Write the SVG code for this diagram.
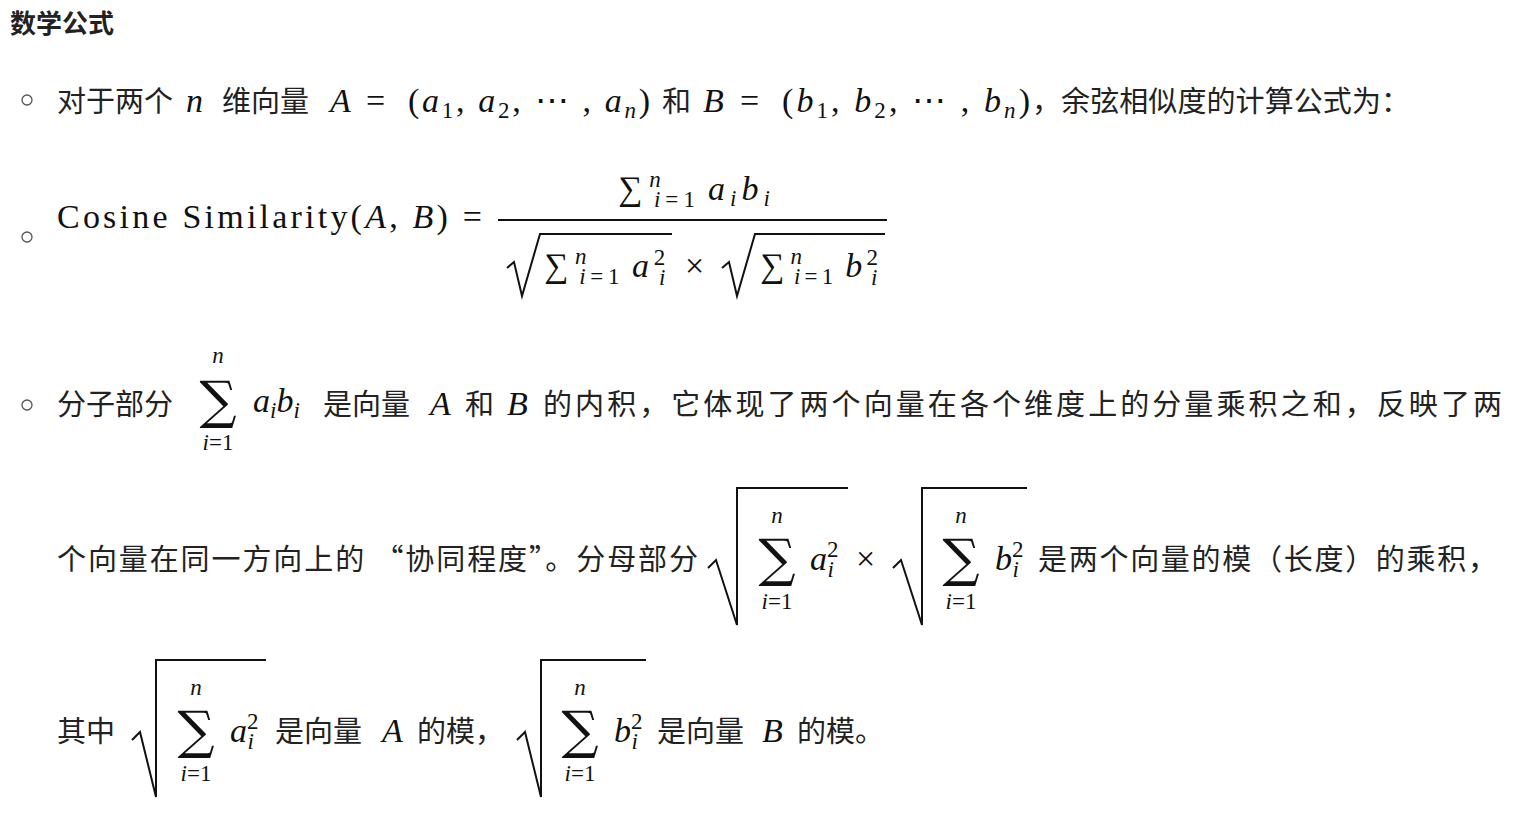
<svg xmlns="http://www.w3.org/2000/svg" width="1530" height="820" viewBox="0 0 1530 820">
<style>
.c{font-family:"Noto Sans CJK SC","Noto Sans",sans-serif;font-size:29px;fill:#222}
.m{font-family:"Liberation Serif","DejaVu Serif",serif;font-size:34px;fill:#111}
.i{font-style:italic}
.s{font-size:23px}
.big{font-family:"DejaVu Serif",serif;font-size:52px;fill:#111}
.b{fill:none;stroke:#555;stroke-width:1.3}
.r{fill:none;stroke:#111;stroke-width:2}
</style>
<rect width="1530" height="820" fill="#fff"/>
<text x="10" y="33" class="c" style="font-weight:bold;font-size:26px">数学公式</text>
<circle cx="27" cy="100" r="5" class="b"/><circle cx="27" cy="237" r="5" class="b"/><circle cx="27" cy="405" r="5" class="b"/>
<!-- line 1 -->
<text y="112" class="c"><tspan x="57">对于两个</tspan><tspan x="222">维向量</tspan><tspan x="662">和</tspan></text>
<text x="1032" y="112" class="c" textLength="378" lengthAdjust="spacing">，余弦相似度的计算公式为：</text>
<text y="112" class="m"><tspan x="186" class="i">n</tspan><tspan x="330" class="i">A</tspan><tspan x="366">=</tspan><tspan x="703" class="i">B</tspan><tspan x="740">=</tspan></text>
<text x="408" y="112" class="m" textLength="242" lengthAdjust="spacing">(<tspan class="i">a</tspan><tspan class="s" dy="6">1</tspan><tspan dy="-6">, </tspan><tspan class="i">a</tspan><tspan class="s" dy="6">2</tspan><tspan dy="-6">, ⋯ , </tspan><tspan class="i">a</tspan><tspan class="s i" dy="6">n</tspan><tspan dy="-6">)</tspan></text>
<text x="782" y="112" class="m" textLength="248" lengthAdjust="spacing">(<tspan class="i">b</tspan><tspan class="s" dy="6">1</tspan><tspan dy="-6">, </tspan><tspan class="i">b</tspan><tspan class="s" dy="6">2</tspan><tspan dy="-6">, ⋯ , </tspan><tspan class="i">b</tspan><tspan class="s i" dy="6">n</tspan><tspan dy="-6">)</tspan></text>
<!-- line 2 -->
<text x="57" y="228" class="m" textLength="425" lengthAdjust="spacing">Cosine Similarity(<tspan class="i">A</tspan>, <tspan class="i">B</tspan>)  =</text>
<line x1="498" y1="220" x2="887" y2="220" class="r"/>
<text x="618" y="200" class="m" textLength="152" lengthAdjust="spacing">∑<tspan class="s i" dx="2" dy="-13">n</tspan><tspan class="s" dx="-12" dy="20"><tspan class="i">i</tspan>=1</tspan><tspan dx="8" dy="-7" class="i">a</tspan><tspan class="s i" dy="6">i</tspan><tspan class="i" dy="-6">b</tspan><tspan class="s i" dy="6">i</tspan></text>
<path d="M507 268 L514 262 L522 296 L540 234 L672 234" class="r"/>
<text x="544" y="277" class="m" textLength="126" lengthAdjust="spacing">∑<tspan class="s i" dx="2" dy="-13">n</tspan><tspan class="s" dx="-12" dy="20"><tspan class="i">i</tspan>=1</tspan><tspan dx="8" dy="-7" class="i">a</tspan><tspan class="s" dy="-12">2</tspan><tspan class="s i" dx="-11" dy="20">i</tspan></text>
<text x="685" y="277" class="m">×</text>
<path d="M722 268 L729 262 L737 296 L755 234 L885 234" class="r"/>
<text x="760" y="277" class="m" textLength="122" lengthAdjust="spacing">∑<tspan class="s i" dx="2" dy="-13">n</tspan><tspan class="s" dx="-12" dy="20"><tspan class="i">i</tspan>=1</tspan><tspan dx="8" dy="-7" class="i">b</tspan><tspan class="s" dy="-12">2</tspan><tspan class="s i" dx="-11" dy="20">i</tspan></text>
<!-- line 3 -->
<text y="415" class="c"><tspan x="57">分子部分</tspan><tspan x="323">是向量</tspan><tspan x="465">和</tspan></text>
<text x="543" y="415" class="c" textLength="959" lengthAdjust="spacing">的内积，它体现了两个向量在各个维度上的分量乘积之和，反映了两</text>
<text x="218" y="418" class="big" text-anchor="middle">∑</text>
<text x="218" y="363" class="m s i" text-anchor="middle">n</text>
<text x="218" y="450" class="m s" text-anchor="middle"><tspan class="i">i</tspan>=1</text>
<text x="253" y="412" class="m"><tspan class="i">a</tspan><tspan class="s i" dy="6">i</tspan><tspan class="i" dy="-6">b</tspan><tspan class="s i" dy="6">i</tspan></text>
<text y="415" class="m i"><tspan x="430">A</tspan><tspan x="507">B</tspan></text>
<!-- line 4 -->
<text x="57" y="570" class="c" textLength="641" lengthAdjust="spacing">个向量在同一方向上的 “协同程度”。分母部分</text>
<text x="1038" y="570" class="c" textLength="459" lengthAdjust="spacing">是两个向量的模（长度）的乘积，</text>
<path d="M708 568 L716 560 L737 625 L737 488 L848 488" class="r"/>
<text x="777" y="576" class="big" text-anchor="middle">∑</text>
<text x="777" y="523" class="m s i" text-anchor="middle">n</text>
<text x="777" y="609" class="m s" text-anchor="middle"><tspan class="i">i</tspan>=1</text>
<text x="810" y="570" class="m"><tspan class="i">a</tspan><tspan class="s" dy="-13">2</tspan><tspan class="s i" dx="-11" dy="20">i</tspan></text>
<text x="856" y="570" class="m">×</text>
<path d="M893 568 L901 560 L922 625 L922 488 L1027 488" class="r"/>
<text x="961" y="576" class="big" text-anchor="middle">∑</text>
<text x="961" y="523" class="m s i" text-anchor="middle">n</text>
<text x="961" y="609" class="m s" text-anchor="middle"><tspan class="i">i</tspan>=1</text>
<text x="995" y="570" class="m"><tspan class="i">b</tspan><tspan class="s" dy="-13">2</tspan><tspan class="s i" dx="-11" dy="20">i</tspan></text>
<!-- line 5 -->
<text y="742" class="c"><tspan x="57">其中</tspan><tspan x="275">是向量</tspan><tspan x="417">的模，</tspan><tspan x="657">是向量</tspan><tspan x="797">的模。</tspan></text>
<text y="742" class="m i"><tspan x="382">A</tspan><tspan x="762">B</tspan></text>
<path d="M132 740 L140 732 L156 797 L156 660 L266 660" class="r"/>
<text x="196" y="748" class="big" text-anchor="middle">∑</text>
<text x="196" y="695" class="m s i" text-anchor="middle">n</text>
<text x="196" y="781" class="m s" text-anchor="middle"><tspan class="i">i</tspan>=1</text>
<text x="230" y="742" class="m"><tspan class="i">a</tspan><tspan class="s" dy="-13">2</tspan><tspan class="s i" dx="-11" dy="20">i</tspan></text>
<path d="M517 740 L525 732 L541 797 L541 660 L646 660" class="r"/>
<text x="580" y="748" class="big" text-anchor="middle">∑</text>
<text x="580" y="695" class="m s i" text-anchor="middle">n</text>
<text x="580" y="781" class="m s" text-anchor="middle"><tspan class="i">i</tspan>=1</text>
<text x="614" y="742" class="m"><tspan class="i">b</tspan><tspan class="s" dy="-13">2</tspan><tspan class="s i" dx="-11" dy="20">i</tspan></text>
</svg>
